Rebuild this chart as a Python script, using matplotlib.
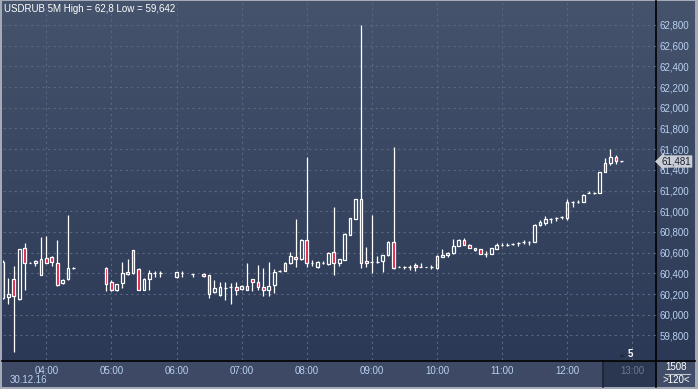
import numpy as np
import matplotlib
matplotlib.use("Agg")
import matplotlib.pyplot as plt
from matplotlib.patches import Rectangle, Polygon
from matplotlib.lines import Line2D
from matplotlib.collections import LineCollection
from matplotlib.colors import LinearSegmentedColormap
from matplotlib.transforms import blended_transform_factory

plt.rcParams['font.family'] = ['Liberation Sans', 'DejaVu Sans']
plt.rcParams['font.size'] = 7

# 5 minute bars USDRUB, first bar 03:20, None = no bar
start_time = "03:20"
opens = [60514, 60167, 60342, 60150, 60643, 60504, 60497, 60381, 60546, 60562, 60497, 60303, 60342, 60449,
         None, None, None, None, None,
         60449, 60312, 60238, 60303, 60394, 60627, 60439, 60244, 60342, 60403, 60400,
         None, None, 60361, 60406, None, 60397, None,
         60397, 60381, 60222, 60189, 60261, 60264, 60264, 60251, 60274, 60342, 60312, 60264, 60244, 60283,
         60423, 60426, 60497, 60556, 60539, 60721, 60504, 60458, 60504, 60488, 60604, 60497, 60533, 60766,
         60928, 61116, 60517, 60507, 60510, 60523, 60575, 60702, 60465, 60458, 60458, 60484, 60462, 60462,
         60458, 60455, 60557, 60580, 60596, 60665, 60727, 60678, 60648, 60632, 60590, 60590, 60639, 60678,
         60678, 60684, 60694, 60704, 60707, 60704, 60863, 60890, 60925, 60938, 60945, 60938, 61092, 61092,
         61088, 61176, 61176, 61176, 61382, 61467, 61528, 61486]
highs = [60530, 60351, 60471, 60634, 60692, 60507, 60530, 60747, 60757, 60569, 60724, 60345, 60961, 60462,
         None, None, None, None, None,
         60465, 60335, 60300, 60510, 60539, 60627, 60449, 60355, 60429, 60420, 60423,
         None, None, 60416, 60423, None, 60397, None,
         60400, 60387, 60335, 60319, 60312, 60303, 60312, 60287, 60504, 60348, 60481, 60449, 60510, 60442,
         60429, 60514, 60608, 60929, 60728, 61525, 60530, 60517, 60523, 60611, 61039, 60543, 60786, 60935,
         61116, 62800, 60659, 60968, 60569, 60582, 60708, 61621, 60471, 60475, 60478, 60497, 60504, 60465,
         60478, 60575, 60639, 60609, 60736, 60736, 60746, 60684, 60648, 60639, 60612, 60642, 60697, 60694,
         60691, 60697, 60701, 60720, 60710, 60873, 60916, 60955, 60938, 60945, 60951, 61118, 61101, 61105,
         61167, 61199, 61186, 61382, 61519, 61600, 61541, 61489]
lows = [60154, 60108, 59642, 60141, 60238, 60497, 60475, 60381, 60497, 60471, 60280, 60293, 60335, 60439,
        None, None, None, None, None,
        60231, 60231, 60231, 60261, 60387, 60394, 60238, 60238, 60238, 60368, 60368,
        None, None, 60358, 60368, None, 60368, None,
        60368, 60163, 60215, 60183, 60141, 60108, 60189, 60238, 60238, 60231, 60238, 60183, 60183, 60212,
        60413, 60420, 60491, 60465, 60533, 60465, 60475, 60452, 60494, 60481, 60387, 60475, 60526, 60766,
        60928, 60455, 60465, 60406, 60504, 60416, 60569, 60439, 60462, 60445, 60433, 60426, 60462, 60458,
        60439, 60445, 60557, 60557, 60590, 60665, 60678, 60648, 60616, 60590, 60557, 60590, 60639, 60661,
        60665, 60678, 60668, 60687, 60678, 60704, 60857, 60870, 60883, 60909, 60929, 60916, 61040, 61079,
        61088, 61173, 61170, 61176, 61382, 61447, 61460, 61480]
closes = [60163, 60196, 60183, 60634, 60497, 60504, 60520, 60536, 60497, 60507, 60287, 60335, 60449, 60449,
          None, None, None, None, None,
          60296, 60241, 60293, 60400, 60416, 60400, 60244, 60345, 60400, 60403, 60400,
          None, None, 60410, 60406, None, 60397, None,
          60371, 60205, 60261, 60264, 60261, 60264, 60244, 60280, 60244, 60312, 60264, 60235, 60274, 60410,
          60423, 60501, 60565, 60536, 60721, 60497, 60504, 60510, 60504, 60598, 60497, 60536, 60779, 60935,
          61116, 60497, 60497, 60507, 60510, 60575, 60702, 60452, 60465, 60458, 60458, 60458, 60462, 60462,
          60458, 60565, 60580, 60599, 60668, 60720, 60678, 60648, 60629, 60590, 60590, 60642, 60678, 60678,
          60678, 60684, 60694, 60704, 60707, 60863, 60896, 60925, 60925, 60938, 60945, 61092, 61092, 61092,
          61160, 61176, 61176, 61382, 61470, 61528, 61489, 61486]

hour_labels = ["04:00", "05:00", "06:00", "07:00", "08:00", "09:00", "10:00", "11:00", "12:00", "13:00"]
price_ticks = list(range(59800, 62801, 200))
title = "USDRUB 5M High = 62,8 Low = 59,642"
date_label = "30.12.16"
last_price = 61481

W, H = 698, 389
fig = plt.figure(figsize=(W / 100, H / 100), dpi=100, facecolor='#a4abb6')


def px_axes(x0, y0, x1, y1):
    return fig.add_axes([x0 / W, 1 - y1 / H, (x1 - x0) / W, (y1 - y0) / H])


def frect(x0, y0, x1, y1, color):
    fig.add_artist(Rectangle((x0 / W, 1 - y1 / H), (x1 - x0) / W, (y1 - y0) / H,
                             transform=fig.transFigure, fc=color, ec='none', zorder=0.5))


def fline(x0, y0, x1, y1, color, lw=1.0):
    fig.add_artist(Line2D([x0 / W, x1 / W], [1 - y0 / H, 1 - y1 / H],
                          transform=fig.transFigure, color=color, lw=lw, zorder=0.6))


# gradient background of chart + price panel
bg = px_axes(2, 1, 695, 360)
bg.set_zorder(0)
grad = np.linspace(0, 1, 256).reshape(-1, 1)
cmap = LinearSegmentedColormap.from_list('bg', ['#46536c', '#2c3956'])
bg.imshow(grad, aspect='auto', cmap=cmap, extent=[0, 1, 0, 1])
bg.axis('off')

# bottom strip
frect(2, 360, 695, 387, '#3d4965')
frect(602, 361, 655, 387, '#2b3650')
frect(656, 361, 695, 387, '#414d68')
fline(602.5, 361, 602.5, 387, '#1d2436', 1.2)
fline(2, 360.5, 695, 360.5, '#000000', 1.2)
fline(655.5, 1, 655.5, 387, '#000000', 1.2)
fline(665, 373.5, 690, 373.5, '#c0c6d0', 0.8)

ax = px_axes(3, 2, 655.5, 360)
ax.set_zorder(2)
ax.patch.set_alpha(0)
for s in ax.spines.values():
    s.set_visible(False)

h0, m0 = map(int, start_time.split(":"))
first = ((h0 * 60 + m0) - 4 * 60) / 5
x_all = first + np.arange(len(opens))
bars_per_px = 1 / 5.425
ax.set_xlim(-43.3 * bars_per_px, 609.2 * bars_per_px)
ax.set_ylim(59563, 63022)

ax.set_yticks(price_ticks)
ax.set_yticklabels(["%d,%03d" % (p // 1000, p % 1000) for p in price_ticks])
ax.yaxis.tick_right()
ax.set_xticks(np.arange(len(hour_labels)) * 12)
ax.set_xticklabels(hour_labels)
ax.tick_params(axis='both', length=0, colors='#b9d1f1', labelsize=7)
ax.tick_params(axis='y', pad=3)
ax.tick_params(axis='x', pad=4)
ax.get_xticklabels()[-1].set_color('#6b7690')
ax.grid(True, color='#5a6782', ls=(0, (2, 3)), lw=0.8)
ax.set_axisbelow(True)

segs = []
up_x, up_b, up_h, dn_x, dn_b, dn_h = [], [], [], [], [], []
for x, o, h, l, c in zip(x_all, opens, highs, lows, closes):
    if o is None:
        continue
    top, bot = max(o, c), min(o, c)
    if h > top:
        segs.append([(x, top), (x, h)])
    if l < bot:
        segs.append([(x, l), (x, bot)])
    if c >= o:
        up_x.append(x); up_b.append(bot); up_h.append(top - bot)
    else:
        dn_x.append(x); dn_b.append(bot); dn_h.append(top - bot)

ax.add_collection(LineCollection(segs, colors='white', linewidths=0.9, zorder=3))
ax.bar(up_x, up_h, bottom=up_b, width=0.5, fc='none', ec='white', lw=0.9, zorder=4)
ax.bar(dn_x, dn_h, bottom=dn_b, width=0.5, fc='#e3163e', ec='white', lw=0.9, zorder=4)

# current price marker in the price panel
trans = blended_transform_factory(ax.transAxes, ax.transData)
ax.text(1.0 + 6 / 652.5, last_price, "%d,%03d" % (last_price // 1000, last_price % 1000),
        transform=trans, ha='left', va='center', color='#1a2030', fontsize=7, clip_on=False, zorder=6,
        bbox=dict(boxstyle='larrow,pad=0.12', fc='#c9cdd4', ec='none'))

fig.text(4 / W, 1 - 9 / H, title, color='white', fontsize=7, ha='left', va='center', zorder=5)
fig.text(29 / W, 1 - 380 / H, date_label, color='#b9d1f1', fontsize=7, ha='center', va='center', zorder=5)
fig.text(630 / W, 1 - 354 / H, "5", color='white', fontsize=7, fontweight='bold', ha='center', va='center',
         zorder=5)
fig.add_artist(Polygon([(619 / W, 1 - 357 / H), (625 / W, 1 - 357 / H), (622 / W, 1 - 353.5 / H)],
                       closed=True, transform=fig.transFigure, fc='#222a3c', ec='none', zorder=5))
fig.text(676 / W, 1 - 367 / H, "1508", color='white', fontsize=7, ha='center', va='center', zorder=5)
fig.text(676 / W, 1 - 380 / H, ">120<", color='white', fontsize=7, ha='center', va='center', zorder=5)

fig.savefig("out.png", dpi=100, facecolor=fig.get_facecolor())
